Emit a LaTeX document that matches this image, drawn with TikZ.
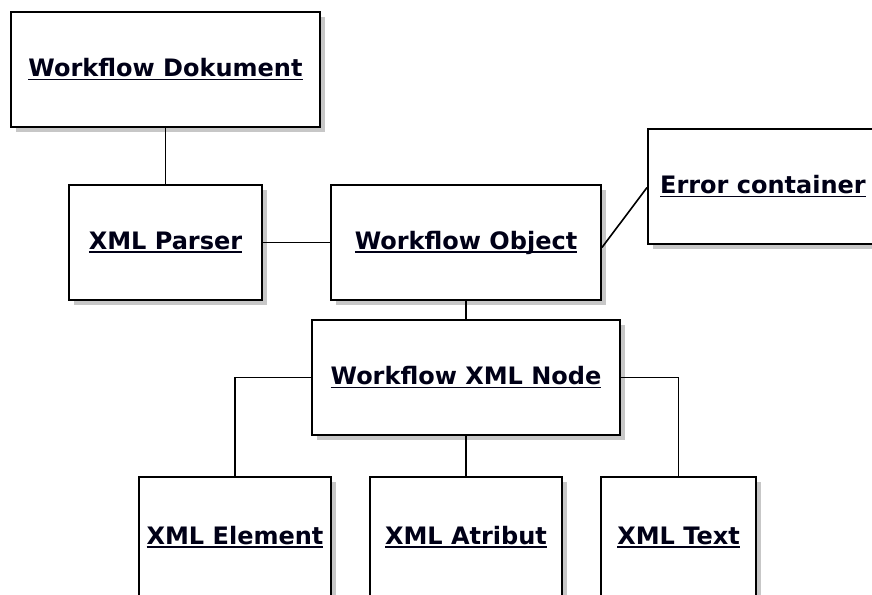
\documentclass[tikz,border=0pt]{standalone}
\usepackage{fontspec}
\setmainfont{DejaVu Sans}
\usetikzlibrary{positioning}

% underlined class name, UML object style
\newcommand\objname[1]{\setbox0\hbox{#1}\rlap{\rule[-3.5pt]{\wd0}{1.8pt}}\box0}

\tikzset{
  obj/.style={draw=black, line width=1.9pt, fill=white,
    inner sep=0pt, font=\fontsize{24}{28}\selectfont\bfseries,
    text=black!85!blue!60!black},
  shade box/.style={fill=black!22, draw=none},
  link/.style={draw=black, line width=1.6pt},
}

\newcommand\umlobj[6]{% name, x0, y0, x1, y1, text
  \fill[shade box] (#2+5,#3+5) rectangle (#4+5,#5+5);
  \node[obj, minimum width=#4-#2, minimum height=#5-#3] (#1)
    at ({(#2+#4)/2},{(#3+#5)/2}) {\objname{#6}};
}

\begin{document}
\begin{tikzpicture}[x=1pt,y=-1pt]
  \useasboundingbox[fill=white] (0,0) rectangle (872,594);
  \begin{scope}
    \clip (0,0) rectangle (872,594);
    \umlobj{doc}{11}{12}{320}{127}{Workflow Dokument}
    \umlobj{parser}{69}{185}{262}{300}{XML Parser}
    \umlobj{wobj}{331}{185}{601}{300}{Workflow Object}
    \umlobj{err}{648}{129}{878}{244}{Error container}
    \umlobj{xnode}{312}{320}{620}{435}{Workflow XML Node}
    \umlobj{elem}{139}{477}{331}{597}{XML Element}
    \umlobj{attr}{370}{477}{562}{597}{XML Atribut}
    \umlobj{txt}{601}{477}{756}{597}{XML Text}

    \coordinate (wobjr) at ([yshift=-5pt]wobj.east);
    \coordinate (errl) at ([yshift=-1pt]err.west);

    \draw[link] (doc.south -| parser.north) -- (parser.north);
    \draw[link] (parser.east) -- (wobj.west);
    \draw[link] (wobjr) -- (errl);
    \draw[link] (wobj.south) -- (wobj.south |- xnode.north);
    \draw[link] (xnode.west) -| (elem.north);
    \draw[link] (xnode.south) -- (xnode.south |- attr.north);
    \draw[link] (xnode.east) -| (txt.north);
  \end{scope}
\end{tikzpicture}
\end{document}
